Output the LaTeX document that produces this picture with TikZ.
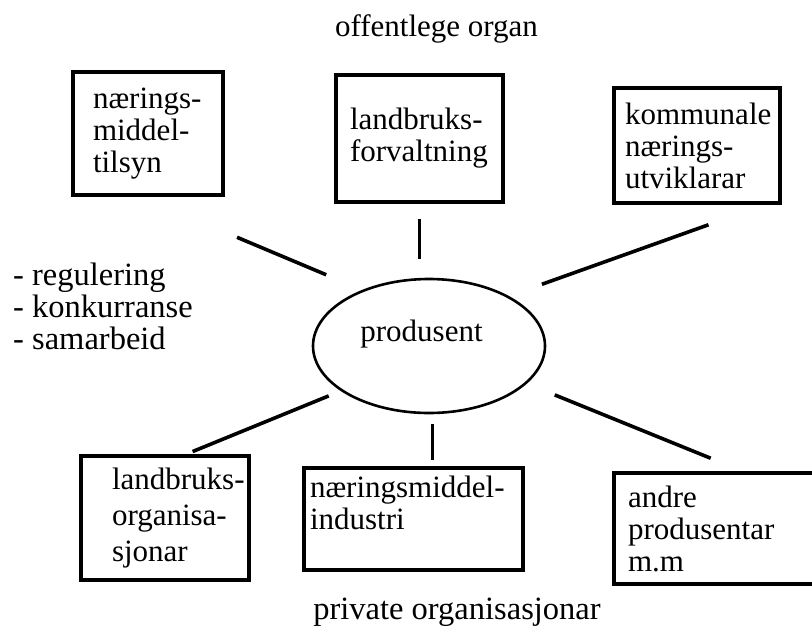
\documentclass[tikz,border=0pt]{standalone}
\usepackage{fontspec}
\setmainfont{Liberation Serif}
\usetikzlibrary{shapes.geometric}
\newcommand\orgfont{\fontsize{31}{32}\selectfont\hyphenpenalty=10000\exhyphenpenalty=10000\relax}
\newcommand\widefont{\fontsize{31}{36}\selectfont\hyphenpenalty=10000\exhyphenpenalty=10000\relax}
\newcommand\sidefont{\fontsize{32.5}{32}\selectfont}
\tikzset{
    org box/.style={draw, line width=3.2pt, rectangle, align=left, inner ysep=0pt, font=\orgfont},
    link line/.style={line width=3.6pt}
}

\begin{document}
\begin{tikzpicture}[x=1pt, y=-1pt]

    \useasboundingbox (0,0) rectangle (812,635);

    % Overskrifter og tekst
    \node[anchor=base, font=\orgfont] (OO) at (436.5,36) {offentlege organ};
    \node[anchor=base, font=\sidefont] (PO) at (457,619) {private organisasjonar};
    \node[anchor=west, align=left, inner sep=0pt, font=\sidefont] (REL) at (13,306.5)
        {- regulering\\- konkurranse\\- samarbeid};

    % Produsent i midten
    \node[draw, ellipse, line width=2.6pt, minimum width=232pt, minimum height=134pt,
        inner sep=0pt, text depth=31pt, font=\orgfont] (P) at (429,346) {produsent\hspace*{15pt}};

    % Boksar
    \node[org box, minimum width=150pt, minimum height=123pt, inner xsep=20pt, text width=110pt]
        (NMT) at (148,133.5) {nærings-\\middel-\\tilsyn};
    \node[org box, minimum width=167pt, minimum height=127pt, inner xsep=14pt, text width=139pt]
        (LF) at (419.5,138.5) {landbruks-\\forvaltning};
    \node[org box, minimum width=166pt, minimum height=115pt, inner xsep=11pt, text width=144pt]
        (KN) at (697,145.5) {kommunale\\nærings-\\utviklarar};
    \node[org box, font=\widefont, minimum width=168pt, minimum height=124pt, inner xsep=31pt, text width=106pt]
        (LO) at (165,518) {landbruks-\\organisa-\\sjonar};
    \node[org box, minimum width=219pt, minimum height=102pt, inner xsep=6pt, text width=207pt]
        (NI) at (413.5,519) {næringsmiddel-\\industri\\\mbox{}};
    \node[org box, minimum width=200pt, minimum height=111pt, inner xsep=14pt, text width=172pt]
        (AP) at (714,528.5) {andre\\produsentar\\m.m};

    % Samband til produsenten
    \draw[link line, shorten <=105pt, shorten >=39pt] (NMT.-97) -- (P.140);
    \draw[link line, shorten <=15pt, shorten >=19pt] (LF.south) -- (LF.south |- P.north);
    \draw[link line, shorten <=60pt, shorten >=35pt] (KN.-41) -- (P.32);
    \draw[link line, shorten <=7.5pt, shorten >=13pt] (LO.72) -- (P.207);
    \draw[link line, shorten <=10pt, shorten >=6pt] (P.-87) -- (P.-87 |- NI.north);
    \draw[link line, shorten <=35pt, shorten >=30pt] (AP.63) -- (P.-21);

\end{tikzpicture}
\end{document}
